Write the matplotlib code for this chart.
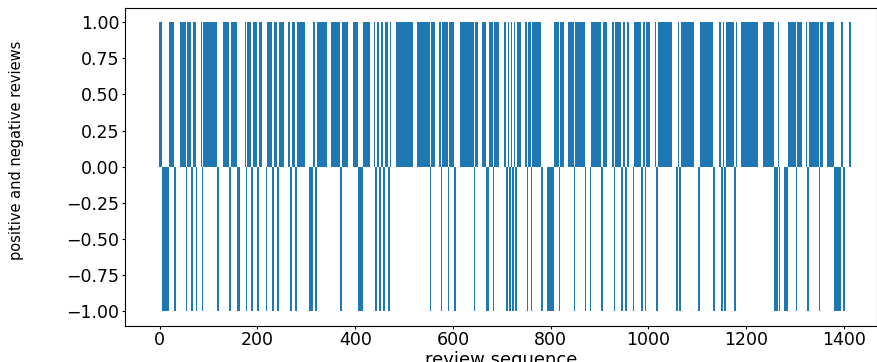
import matplotlib
matplotlib.use("Agg")
import matplotlib.pyplot as plt
import numpy as np

# number of reviews (~1415)
n_reviews = 1416

# everything else is a positive review
negative_runs = [
    (6, 20), (30, 33), (54, 57), (65, 68), (75, 78), (87, 90), (117, 127),
    (143, 146), (158, 164), (177, 180), (188, 191), (200, 203), (218, 221),
    (231, 234), (241, 244), (268, 271), (278, 281), (304, 314), (319, 322),
    (348, 351), (370, 373), (385, 388), (406, 416), (442, 445), (450, 453),
    (458, 462), (468, 471), (474, 477), (478, 481), (519, 525), (553, 556),
    (563, 566), (569, 572), (576, 579), (590, 593), (603, 611), (643, 646),
    (651, 654), (669, 675), (682, 685), (698, 701), (710, 713), (716, 719),
    (722, 725), (728, 731), (752, 755), (760, 763), (781, 784), (792, 808),
    (817, 820), (848, 851), (870, 875), (879, 884), (904, 907), (930, 933),
    (945, 948), (953, 956), (962, 966), (969, 972), (985, 990), (993, 996),
    (1005, 1010), (1012, 1015), (1017, 1020), (1049, 1052), (1056, 1061),
    (1064, 1067), (1097, 1106), (1132, 1137), (1140, 1143), (1149, 1153),
    (1156, 1159), (1176, 1179), (1187, 1190), (1225, 1235), (1257, 1266),
    (1268, 1271), (1276, 1286), (1302, 1305), (1326, 1329), (1349, 1352),
    (1380, 1395), (1399, 1409),
]

sentiment = np.ones(n_reviews)
for start, stop in negative_runs:
    sentiment[start:stop] = -1
positions = np.arange(n_reviews)

fig = plt.figure(figsize=(8.77, 3.62), dpi=100)
ax = fig.add_axes([0.1425, 0.100, 0.857, 0.879])

ax.bar(positions, sentiment, color="#1f77b4")
ax.set_xlim(-71, 1467)
ax.set_ylim(-1.1, 1.1)
ax.set_xticks([0, 200, 400, 600, 800, 1000, 1200, 1400])
ax.set_yticks([-1.0, -0.75, -0.5, -0.25, 0.0, 0.25, 0.5, 0.75, 1.0])
ax.tick_params(labelsize=12.5, length=2.5, pad=1.5)

ax.set_xlabel("review sequence", fontsize=13, labelpad=1)
ax.set_ylabel("positive and negative reviews", fontsize=10.5,
              family=["Liberation Sans Narrow", "DejaVu Sans"])
ax.yaxis.set_label_coords(-0.135, 0.55)

fig.savefig("out.png", dpi=100)
